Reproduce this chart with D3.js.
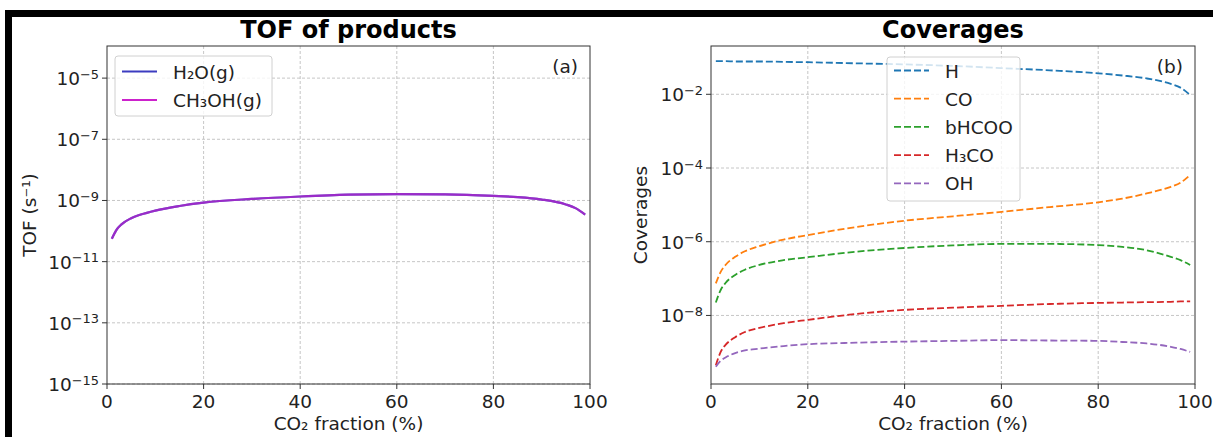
<!DOCTYPE html>
<html>
<head>
<meta charset="utf-8">
<script src="https://cdn.jsdelivr.net/npm/d3@7"></script>
<style>
  body { margin: 0; background: #fff; }
  svg { display: block; font-family: "DejaVu Sans", sans-serif; }
</style>
</head>
<body>
<svg></svg>
<script>
const width = 1213
const height = 437

// x values (CO2 fraction, %)
const xs = [1, 2, 3, 5, 7, 10, 15, 20, 30, 40, 50, 60, 70, 80, 85, 90, 95, 97, 99]

// TOF, log10 values (H2O and CH3OH overlap)
const tofH2O   = [-10.25, -9.95, -9.78, -9.58, -9.46, -9.33, -9.18, -9.07, -8.95, -8.87, -8.81, -8.79, -8.80, -8.85, -8.89, -8.97, -9.13, -9.25, -9.46]
const tofCH3OH = [-10.25, -9.95, -9.78, -9.58, -9.46, -9.33, -9.18, -9.07, -8.95, -8.87, -8.81, -8.79, -8.80, -8.85, -8.89, -8.97, -9.13, -9.25, -9.46]

// coverages, log10 values
const covH     = [-1.10, -1.10, -1.10, -1.11, -1.11, -1.11, -1.12, -1.13, -1.16, -1.19, -1.23, -1.29, -1.35, -1.43, -1.49, -1.57, -1.72, -1.82, -2.02]
const covCO    = [-7.13, -6.82, -6.63, -6.41, -6.26, -6.12, -5.94, -5.82, -5.60, -5.43, -5.31, -5.19, -5.06, -4.93, -4.83, -4.69, -4.51, -4.40, -4.19]
const covHCOO  = [-7.65, -7.31, -7.12, -6.90, -6.76, -6.63, -6.50, -6.42, -6.27, -6.17, -6.10, -6.06, -6.06, -6.09, -6.14, -6.23, -6.41, -6.50, -6.63]
const covH3CO  = [-9.35, -8.99, -8.80, -8.59, -8.45, -8.34, -8.21, -8.12, -7.96, -7.85, -7.79, -7.74, -7.69, -7.66, -7.65, -7.64, -7.63, -7.62, -7.62]
const covOH    = [-9.39, -9.23, -9.14, -9.02, -8.95, -8.90, -8.83, -8.78, -8.74, -8.71, -8.69, -8.67, -8.68, -8.69, -8.72, -8.76, -8.85, -8.91, -8.99]

const xTicks = [0, 20, 40, 60, 80, 100]
const tofTickExp = [-15, -13, -11, -9, -7, -5]
const covTickExp = [-8, -6, -4, -2]

const tofSeries = [
  { name: "H₂O(g)", values: tofH2O, color: "#3c3cc0", opacity: 1 },
  { name: "CH₃OH(g)", values: tofCH3OH, color: "#cc22cc", opacity: 0.65 }
]
const covSeries = [
  { name: "H", values: covH, color: "#1f77b4" },
  { name: "CO", values: covCO, color: "#ff7f0e" },
  { name: "bHCOO", values: covHCOO, color: "#2ca02c" },
  { name: "H₃CO", values: covH3CO, color: "#d62728" },
  { name: "OH", values: covOH, color: "#9467bd" }
]

const fs = 18.5

const svg = d3.select("svg")
  .attr("width", width)
  .attr("height", height)

svg.append("rect").attr("width", width).attr("height", height).attr("fill", "#fff")
// black frame pieces (top and left)
svg.append("rect").attr("x", 5).attr("y", 10).attr("width", width - 5).attr("height", 7).attr("fill", "#000")
svg.append("rect").attr("x", 5).attr("y", 10).attr("width", 7).attr("height", height - 10).attr("fill", "#000")

function expLabel(sel, e) {
  sel.append("tspan").text("10")
  sel.append("tspan").text("−" + Math.abs(e))
    .attr("font-size", "0.7em").attr("dy", "-0.5em")
}

function panel(opt) {
  const g = svg.append("g")
  const x = d3.scaleLinear().domain([0, 100]).range([opt.left, opt.right])
  const y = d3.scaleLinear().domain(opt.yDomain).range([opt.bottom, opt.top])

  // grid
  g.selectAll(".gx").data(xTicks.slice(1, -1)).enter().append("line")
    .attr("x1", d => x(d)).attr("x2", d => x(d))
    .attr("y1", opt.top).attr("y2", opt.bottom)
    .attr("stroke", "#b8b8b8").attr("stroke-width", 0.8).attr("stroke-dasharray", "3,2")
  g.selectAll(".gy").data(opt.yTicks).enter().append("line")
    .attr("x1", opt.left).attr("x2", opt.right)
    .attr("y1", d => y(d)).attr("y2", d => y(d))
    .attr("stroke", "#b8b8b8").attr("stroke-width", 0.8).attr("stroke-dasharray", "3,2")

  // lines
  const line = d3.line()
    .x((d, i) => x(xs[i]))
    .y(d => y(d))
    .curve(d3.curveMonotoneX)
  opt.series.forEach(s => {
    g.append("path")
      .attr("d", line(s.values))
      .attr("fill", "none")
      .attr("stroke", s.color)
      .attr("stroke-width", opt.dashed ? 1.8 : 2.2)
      .attr("stroke-opacity", s.opacity == null ? 1 : s.opacity)
      .attr("stroke-dasharray", opt.dashed ? "7,3" : null)
  })

  // frame
  g.append("rect")
    .attr("x", opt.left).attr("y", opt.top)
    .attr("width", opt.right - opt.left).attr("height", opt.bottom - opt.top)
    .attr("fill", "none").attr("stroke", "#333").attr("stroke-width", 1)

  // x ticks
  const xt = g.selectAll(".xt").data(xTicks).enter().append("g")
    .attr("transform", d => "translate(" + x(d) + "," + opt.bottom + ")")
  xt.append("line").attr("y2", 5).attr("stroke", "#333")
  xt.append("text").attr("y", 23.5).attr("text-anchor", "middle")
    .attr("font-size", fs).attr("fill", "#222").text(d => d)

  // y ticks
  const yt = g.selectAll(".yt").data(opt.yTicks).enter().append("g")
    .attr("transform", d => "translate(" + opt.left + "," + y(d) + ")")
  yt.append("line").attr("x2", -5).attr("stroke", "#333")
  yt.append("text").attr("x", -8).attr("y", 7).attr("text-anchor", "end")
    .attr("font-size", fs).attr("fill", "#222")
    .each(function(d) { expLabel(d3.select(this), d) })

  // title and labels
  const cx = (opt.left + opt.right) / 2
  g.append("text").attr("x", cx).attr("y", 38).attr("text-anchor", "middle")
    .attr("font-size", 24).attr("font-weight", "bold").attr("fill", "#000").text(opt.title)
  g.append("text").attr("x", cx).attr("y", 430).attr("text-anchor", "middle")
    .attr("font-size", fs).attr("fill", "#222").text("CO₂ fraction (%)")
  g.append("text")
    .attr("transform", "translate(" + opt.ylabelX + "," + (opt.top + opt.bottom) / 2 + ") rotate(-90)")
    .attr("text-anchor", "middle").attr("font-size", fs).attr("fill", "#222").text(opt.ylabel)
  g.append("text").attr("x", opt.right - 12).attr("y", 73).attr("text-anchor", "end")
    .attr("font-size", fs).attr("fill", "#222").text(opt.tag)

  // legend
  const L = opt.legend
  g.append("rect").attr("x", L.x).attr("y", L.y).attr("width", L.w).attr("height", L.h)
    .attr("rx", 3).attr("fill", "#fff").attr("fill-opacity", 0.8)
    .attr("stroke", "#d0d0d0")
  const li = g.selectAll(".lg").data(opt.series).enter().append("g")
    .attr("transform", (d, i) => "translate(" + L.x + "," + (L.y + L.first + i * L.step) + ")")
  li.append("line").attr("x1", 7).attr("x2", 42)
    .attr("stroke", d => d.color).attr("stroke-width", opt.dashed ? 1.8 : 2)
    .attr("stroke-dasharray", opt.dashed ? "7,3" : null)
  li.append("text").attr("x", 58).attr("y", 7).attr("font-size", fs).attr("fill", "#222").text(d => d.name)
}

panel({
  left: 107, right: 590, top: 46, bottom: 384,
  yDomain: [-15, -3.95], yTicks: tofTickExp,
  series: tofSeries, dashed: false,
  title: "TOF of products", ylabel: "TOF (s⁻¹)", ylabelX: 36, tag: "(a)",
  legend: { x: 115, y: 56, w: 157, h: 60, first: 15.5, step: 28.5 }
})

panel({
  left: 711, right: 1195, top: 46, bottom: 384,
  yDomain: [-9.86, -0.69], yTicks: covTickExp,
  series: covSeries, dashed: true,
  title: "Coverages", ylabel: "Coverages", ylabelX: 647, tag: "(b)",
  legend: { x: 887, y: 57, w: 133, h: 144, first: 13.5, step: 28.2 }
})
</script>
</body>
</html>
